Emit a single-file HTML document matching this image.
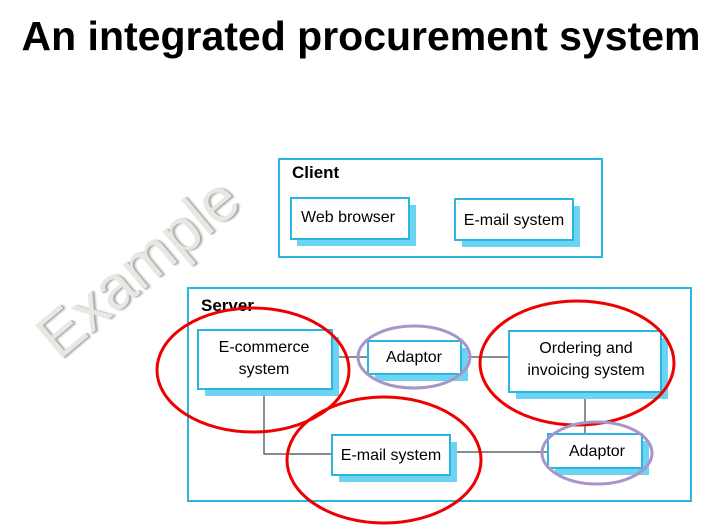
<!DOCTYPE html><html><head><style>body{margin:0;background:#fff;width:722px;height:529px;overflow:hidden;position:relative;font-family:"Liberation Sans",sans-serif}</style></head><body>
<div style="position:absolute;top:13px;left:0;width:722px;text-align:center;font-size:41px;font-weight:bold;color:#000;white-space:nowrap">An integrated procurement system</div>
<div style="position:absolute;left:138px;top:268px;transform:translate(-50%,-50%) rotate(-40deg);font-size:62px;color:#e8e8e3;text-shadow:1px 1px 0 #aaa,2px 2px 2px #bbb;white-space:nowrap">Example</div>
<svg width="722" height="529" style="position:absolute;left:0;top:0" font-family="Liberation Sans, sans-serif">
<g fill="none" stroke="#29b6e0" stroke-width="2">
<rect x="279" y="159" width="323" height="98"/>
<rect x="188" y="288" width="503" height="213"/>
</g>
<text x="292" y="178" font-size="17" font-weight="bold">Client</text>
<text x="201" y="311" font-size="17" font-weight="bold">Server</text>
<g stroke="#444" stroke-width="1.2" fill="none">
<line x1="332" y1="357" x2="509" y2="357"/>
<polyline points="264,389 264,454 332,454"/>
<line x1="450" y1="452" x2="548" y2="452"/>
<line x1="585" y1="392" x2="585" y2="434"/>
</g>
<g fill="#6dd3f3">
<rect x="297" y="205" width="119" height="41"/><rect x="462" y="206" width="118" height="41"/>
<rect x="205" y="337" width="134" height="59"/><rect x="375" y="348" width="93" height="33"/>
<rect x="516" y="338" width="152" height="61"/><rect x="339" y="442" width="118" height="40"/>
<rect x="555" y="441" width="94" height="34"/>
</g>
<g fill="#fff" stroke="#29b6e0" stroke-width="2">
<rect x="291" y="198" width="118" height="41"/><rect x="455" y="199" width="118" height="41"/>
<rect x="198" y="330" width="134" height="59"/><rect x="368" y="341" width="93" height="33"/>
<rect x="509" y="331" width="152" height="61"/><rect x="332" y="435" width="118" height="40"/>
<rect x="548" y="434" width="94" height="34"/>
</g>
<g font-size="16" text-anchor="middle" fill="#000">
<text x="348" y="222">Web browser</text><text x="514" y="225">E-mail system</text>
<text x="264" y="352">E-commerce</text><text x="264" y="374">system</text>
<text x="414" y="362">Adaptor</text>
<text x="586" y="353">Ordering and</text><text x="586" y="375">invoicing system</text>
<text x="391" y="460">E-mail system</text><text x="597" y="456">Adaptor</text>
</g>
<g fill="none" stroke="#e00" stroke-width="3">
<ellipse cx="253" cy="370" rx="96" ry="62"/>
<ellipse cx="577" cy="363" rx="97" ry="62"/>
<ellipse cx="384" cy="460" rx="97" ry="63"/>
</g>
<g fill="none" stroke="#a994c8" stroke-width="3">
<ellipse cx="414" cy="357" rx="56" ry="31"/>
<ellipse cx="597" cy="453" rx="55" ry="31"/>
</g>
</svg>
</body></html>
